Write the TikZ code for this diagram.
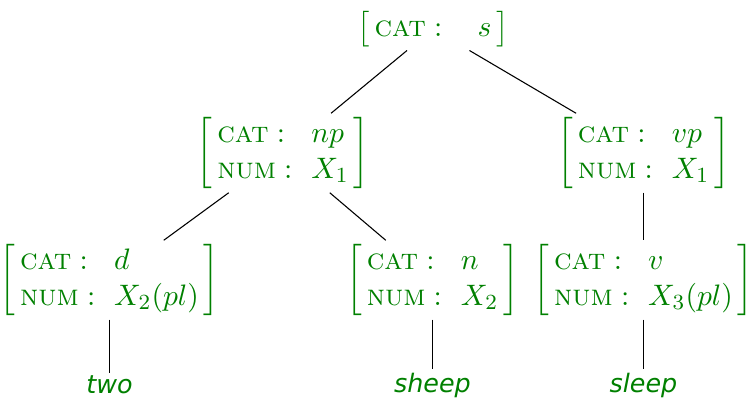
\documentclass[tikz,border=0pt]{standalone}
\usepackage{amsmath,amssymb}
\usepackage{fontspec}
\newfontfamily\leaffont{DejaVu Sans}
\definecolor{fsgreen}{RGB}{0,128,0}
% feature structure: optional gap between attribute and value
\newcommand{\fs}[2][7pt]{$\left[\begin{array}{@{\,}l@{\hspace{#1}}l@{\,}}#2\end{array}\right]$}

\begin{document}
\begin{tikzpicture}[x=0.37pt,y=0.37pt,yscale=-1,xscale=1,
  fsnode/.style={text=fsgreen,inner sep=1pt,font=\fontsize{11}{13.5}\selectfont},
  leaf/.style={text=fsgreen,inner sep=1pt,font=\leaffont\itshape\fontsize{9.4}{11}\selectfont},
  edge/.style={draw=black,line width=0.4pt}]
\useasboundingbox (0,0) rectangle (748,398);

% Feature structures
\node [fsnode] (s) at (433,29) {\fs[13pt]{\textsc{cat}: & s}};
\node [fsnode] (np) at (283,153) {\fs{\textsc{cat}: & np\\ \textsc{num}: & X_1}};
\node [fsnode] (vp) at (643.5,153) {\fs{\textsc{cat}: & vp\\ \textsc{num}: & X_1}};
\node [fsnode] (d) at (109.5,280) {\fs{\textsc{cat}: & d\\ \textsc{num}: & X_2(pl)}};
\node [fsnode] (n) at (432.5,280) {\fs{\textsc{cat}: & n\\ \textsc{num}: & X_2}};
\node [fsnode] (v) at (643.5,280) {\fs{\textsc{cat}: & v\\ \textsc{num}: & X_3(pl)}};

% Words
\node [leaf] (two) at (109.5,385) {two};
\node [leaf] (sheep) at (432.5,385) {sheep};
\node [leaf] (sleep) at (643.5,385) {sleep};

% Branches
\draw [edge] (s) -- (np);
\draw [edge] (s) -- (vp);
\draw [edge] (np) -- (d);
\draw [edge] (np) -- (n);
\draw [edge] (vp) -- (v);
\draw [edge] (d) -- (two);
\draw [edge] (n) -- (sheep);
\draw [edge] (v) -- (sleep);

\end{tikzpicture}
\end{document}
